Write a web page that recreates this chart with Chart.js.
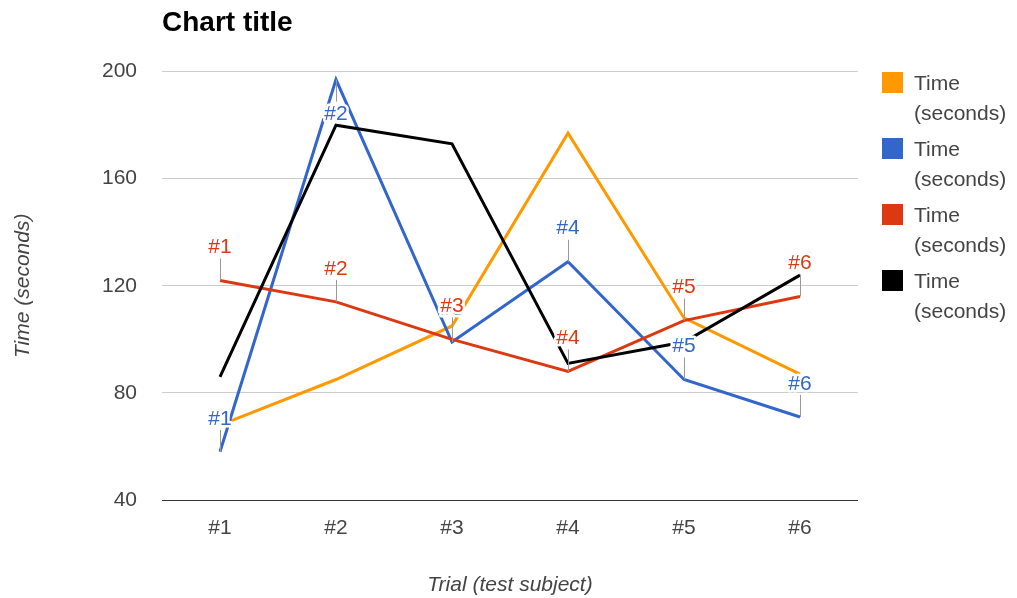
<!DOCTYPE html>
<html>
<head>
<meta charset="utf-8">
<script src="https://cdn.jsdelivr.net/npm/chart.js@4.4.1/dist/chart.umd.min.js"></script>
<style>
html,body{margin:0;padding:0;background:#fff}
#wrap{width:1017px;height:598px;position:relative}
</style>
</head>
<body>
<div id="wrap"><canvas id="c"></canvas></div>
<script>
// ---- data ----
const categories = ['#1', '#2', '#3', '#4', '#5', '#6'];
const seriesNames = ['Time (seconds)', 'Time (seconds)', 'Time (seconds)', 'Time (seconds)'];
const orangeValues = [68, 85, 105, 177, 108, 87];
const blueValues = [58, 197, 99, 129, 85, 71];
const redValues = [122, 114, 100, 88, 107, 116];
const blackValues = [86, 180, 173, 91, 99, 124];
const blueAnnotations = ['#1', '#2', '#3', '#4', '#5', '#6'];
const redAnnotations = ['#1', '#2', '#3', '#4', '#5', '#6'];
const yTicks = [40, 80, 120, 160, 200];
const legendLines = ['Time', '(seconds)'];
const chartTitle = 'Chart title';
const xTitle = 'Trial (test subject)';
const yTitle = 'Time (seconds)';

const FONT = "Arial, 'Liberation Sans', sans-serif";
const COLORS = ['#ff9900', '#3366cc', '#dc3912', '#000000'];

const seriesValues = [orangeValues, blueValues, redValues, blackValues];
const seriesAnnotations = [null, blueAnnotations, redAnnotations, null];

const datasets = seriesValues.map((vals, i) => ({
  label: seriesNames[i],
  data: vals,
  borderColor: COLORS[i],
  backgroundColor: COLORS[i],
  borderWidth: 3,
  pointRadius: 0,
  pointHoverRadius: 0,
  tension: 0,
  fill: false,
  order: 3 - i,
  annotationLabels: seriesAnnotations[i]
}));

const annotationPlugin = {
  id: 'annots',
  afterDatasetsDraw(chart) {
    const ctx = chart.ctx;
    const area = chart.chartArea;
    ctx.save();
    ctx.font = '21px ' + FONT;
    ctx.textAlign = 'center';
    ctx.textBaseline = 'middle';
    chart.data.datasets.forEach((ds, di) => {
      const labels = ds.annotationLabels;
      if (!labels) return;
      const meta = chart.getDatasetMeta(di);
      meta.data.forEach((pt, i) => {
        const x = Math.round(pt.x) + 0.5;
        const y = pt.y;
        const flip = (y - 46) < area.top;
        const dir = flip ? 1 : -1;
        ctx.strokeStyle = '#999999';
        ctx.lineWidth = 1;
        ctx.beginPath();
        ctx.moveTo(x, y);
        ctx.lineTo(x, y + dir * 22);
        ctx.stroke();
        const ty = y + dir * (flip ? 35 : 33);
        ctx.lineJoin = 'round';
        ctx.strokeStyle = '#ffffff';
        ctx.lineWidth = 5;
        ctx.strokeText(labels[i], pt.x, ty);
        ctx.fillStyle = ds.borderColor;
        ctx.fillText(labels[i], pt.x, ty);
      });
    });
    ctx.restore();
  }
};

const legendPlugin = {
  id: 'sideLegend',
  afterDraw(chart) {
    const ctx = chart.ctx;
    ctx.save();
    ctx.font = '21px ' + FONT;
    ctx.textAlign = 'left';
    ctx.textBaseline = 'middle';
    chart.data.datasets.forEach((ds, i) => {
      const top = 72 + i * 66;
      ctx.fillStyle = ds.borderColor;
      ctx.fillRect(882, top, 21, 21);
      ctx.fillStyle = '#444444';
      legendLines.forEach((t, li) => {
        ctx.fillText(t, 914, top + 12 + li * 30);
      });
    });
    ctx.restore();
  }
};

new Chart(document.getElementById('c'), {
  type: 'line',
  data: { labels: categories, datasets },
  plugins: [annotationPlugin, legendPlugin],
  options: {
    responsive: true,
    maintainAspectRatio: false,
    animation: false,
    events: [],
    layout: { padding: { left: 0, right: 159, top: 0, bottom: 0 } },
    plugins: {
      legend: { display: false },
      tooltip: { enabled: false },
      title: {
        display: true,
        text: chartTitle,
        align: 'start',
        fullSize: false,
        color: '#000000',
        font: { family: FONT, size: 28, weight: 'bold' },
        padding: { top: 6, bottom: 32 }
      }
    },
    scales: {
      x: {
        type: 'category',
        offset: true,
        grid: { display: false, drawTicks: false },
        border: { display: false },
        ticks: { color: '#444444', font: { family: FONT, size: 21 }, padding: 16, maxRotation: 0 },
        title: {
          display: true,
          text: xTitle,
          color: '#444444',
          font: { family: FONT, size: 21, style: 'italic' },
          padding: { top: 0, bottom: 0 }
        },
        afterFit(scale) { scale.height = 98; }
      },
      y: {
        min: 40,
        max: 200,
        afterBuildTicks(scale) { scale.ticks = yTicks.map(v => ({ value: v })); },
        grid: {
          drawTicks: false,
          color: (c) => (c.tick && c.tick.value === 40) ? '#333333' : '#cccccc',
          lineWidth: 1
        },
        border: { display: false },
        ticks: { color: '#444444', font: { family: FONT, size: 21 }, padding: 25 },
        title: {
          display: true,
          text: yTitle,
          color: '#444444',
          font: { family: FONT, size: 21, style: 'italic' },
          padding: { top: 11, bottom: 0 }
        },
        afterFit(scale) { scale.width = 162; }
      }
    }
  }
});
</script>
</body>
</html>
